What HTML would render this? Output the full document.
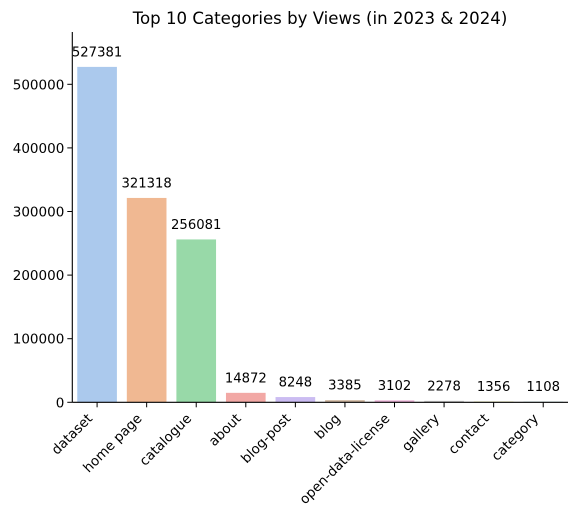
<!DOCTYPE html>
<html><head><meta charset="utf-8"><style>
body{margin:0;background:#fff;}
svg{display:block;font-family:"DejaVu Sans","Liberation Sans",sans-serif;}
</style></head><body>
<svg id="chart" width="578" height="519">
<text x="320" y="24" text-anchor="middle" font-size="16.6" fill="#000">Top 10 Categories by Views (in 2023 &amp; 2024)</text>
<g id="plot"></g>
</svg>
<script>
const categories = ["dataset","home page","catalogue","about","blog-post","blog","open-data-license","gallery","contact","category"];
const views = [527381,321318,256081,14872,8248,3385,3102,2278,1356,1108];
const yTicks = [0,100000,200000,300000,400000,500000];
const colors = ["#abc9ed","#f0b892","#98d9a8","#f2a8a5","#cbbcf2","#d0b7a0","#ebb3d8","#cacaca","#f0eeb0","#bfe6e4"];

const L=72.3, R=568, B=402.3, T=32;
const n=categories.length, step=(R-L)/n, bw=step*0.8;
const x = i => L + step*(i+0.5);
const y = v => B - v*(318/500000);
const NS="http://www.w3.org/2000/svg";
const g=document.getElementById('plot');
function mk(tag, attrs){const e=document.createElementNS(NS,tag);for(const k in attrs)e.setAttribute(k,attrs[k]);g.appendChild(e);return e;}

views.forEach((v,i)=>{
  const r=mk('rect',{x:x(i)-bw/2,y:y(v),width:bw,height:B-y(v),fill:colors[i]});
  
  
  const t=mk('text',{x:x(i),y:y(v)-10.5,'text-anchor':'middle','font-size':'13.2',fill:'#000'});
  t.textContent=v;
  
  
  const tk=mk('line',{x1:x(i),x2:x(i),y1:B,y2:B+5,stroke:'#000','stroke-width':1});
  
  
  const lx=x(i)-4, ly=B+17;
  const xl=mk('text',{x:lx,y:ly,'text-anchor':'end','font-size':'13.5',fill:'#000',transform:`rotate(-45 ${lx} ${ly})`});
  xl.textContent=categories[i];
  
  
});
yTicks.forEach(v=>{
  const tk=mk('line',{x1:L-5,x2:L,y1:y(v),y2:y(v),stroke:'#000','stroke-width':1});
  
  
  const t=mk('text',{x:L-8,y:y(v)+5,'text-anchor':'end','font-size':'13.5',fill:'#000'});
  t.textContent=v;
  
  
});
const ax=mk('line',{x1:L,x2:L,y1:T,y2:B,stroke:'#000','stroke-width':1.1});


const bx=mk('line',{x1:L,x2:R,y1:B,y2:B,stroke:'#000','stroke-width':1.1});


</script>
</body></html>
